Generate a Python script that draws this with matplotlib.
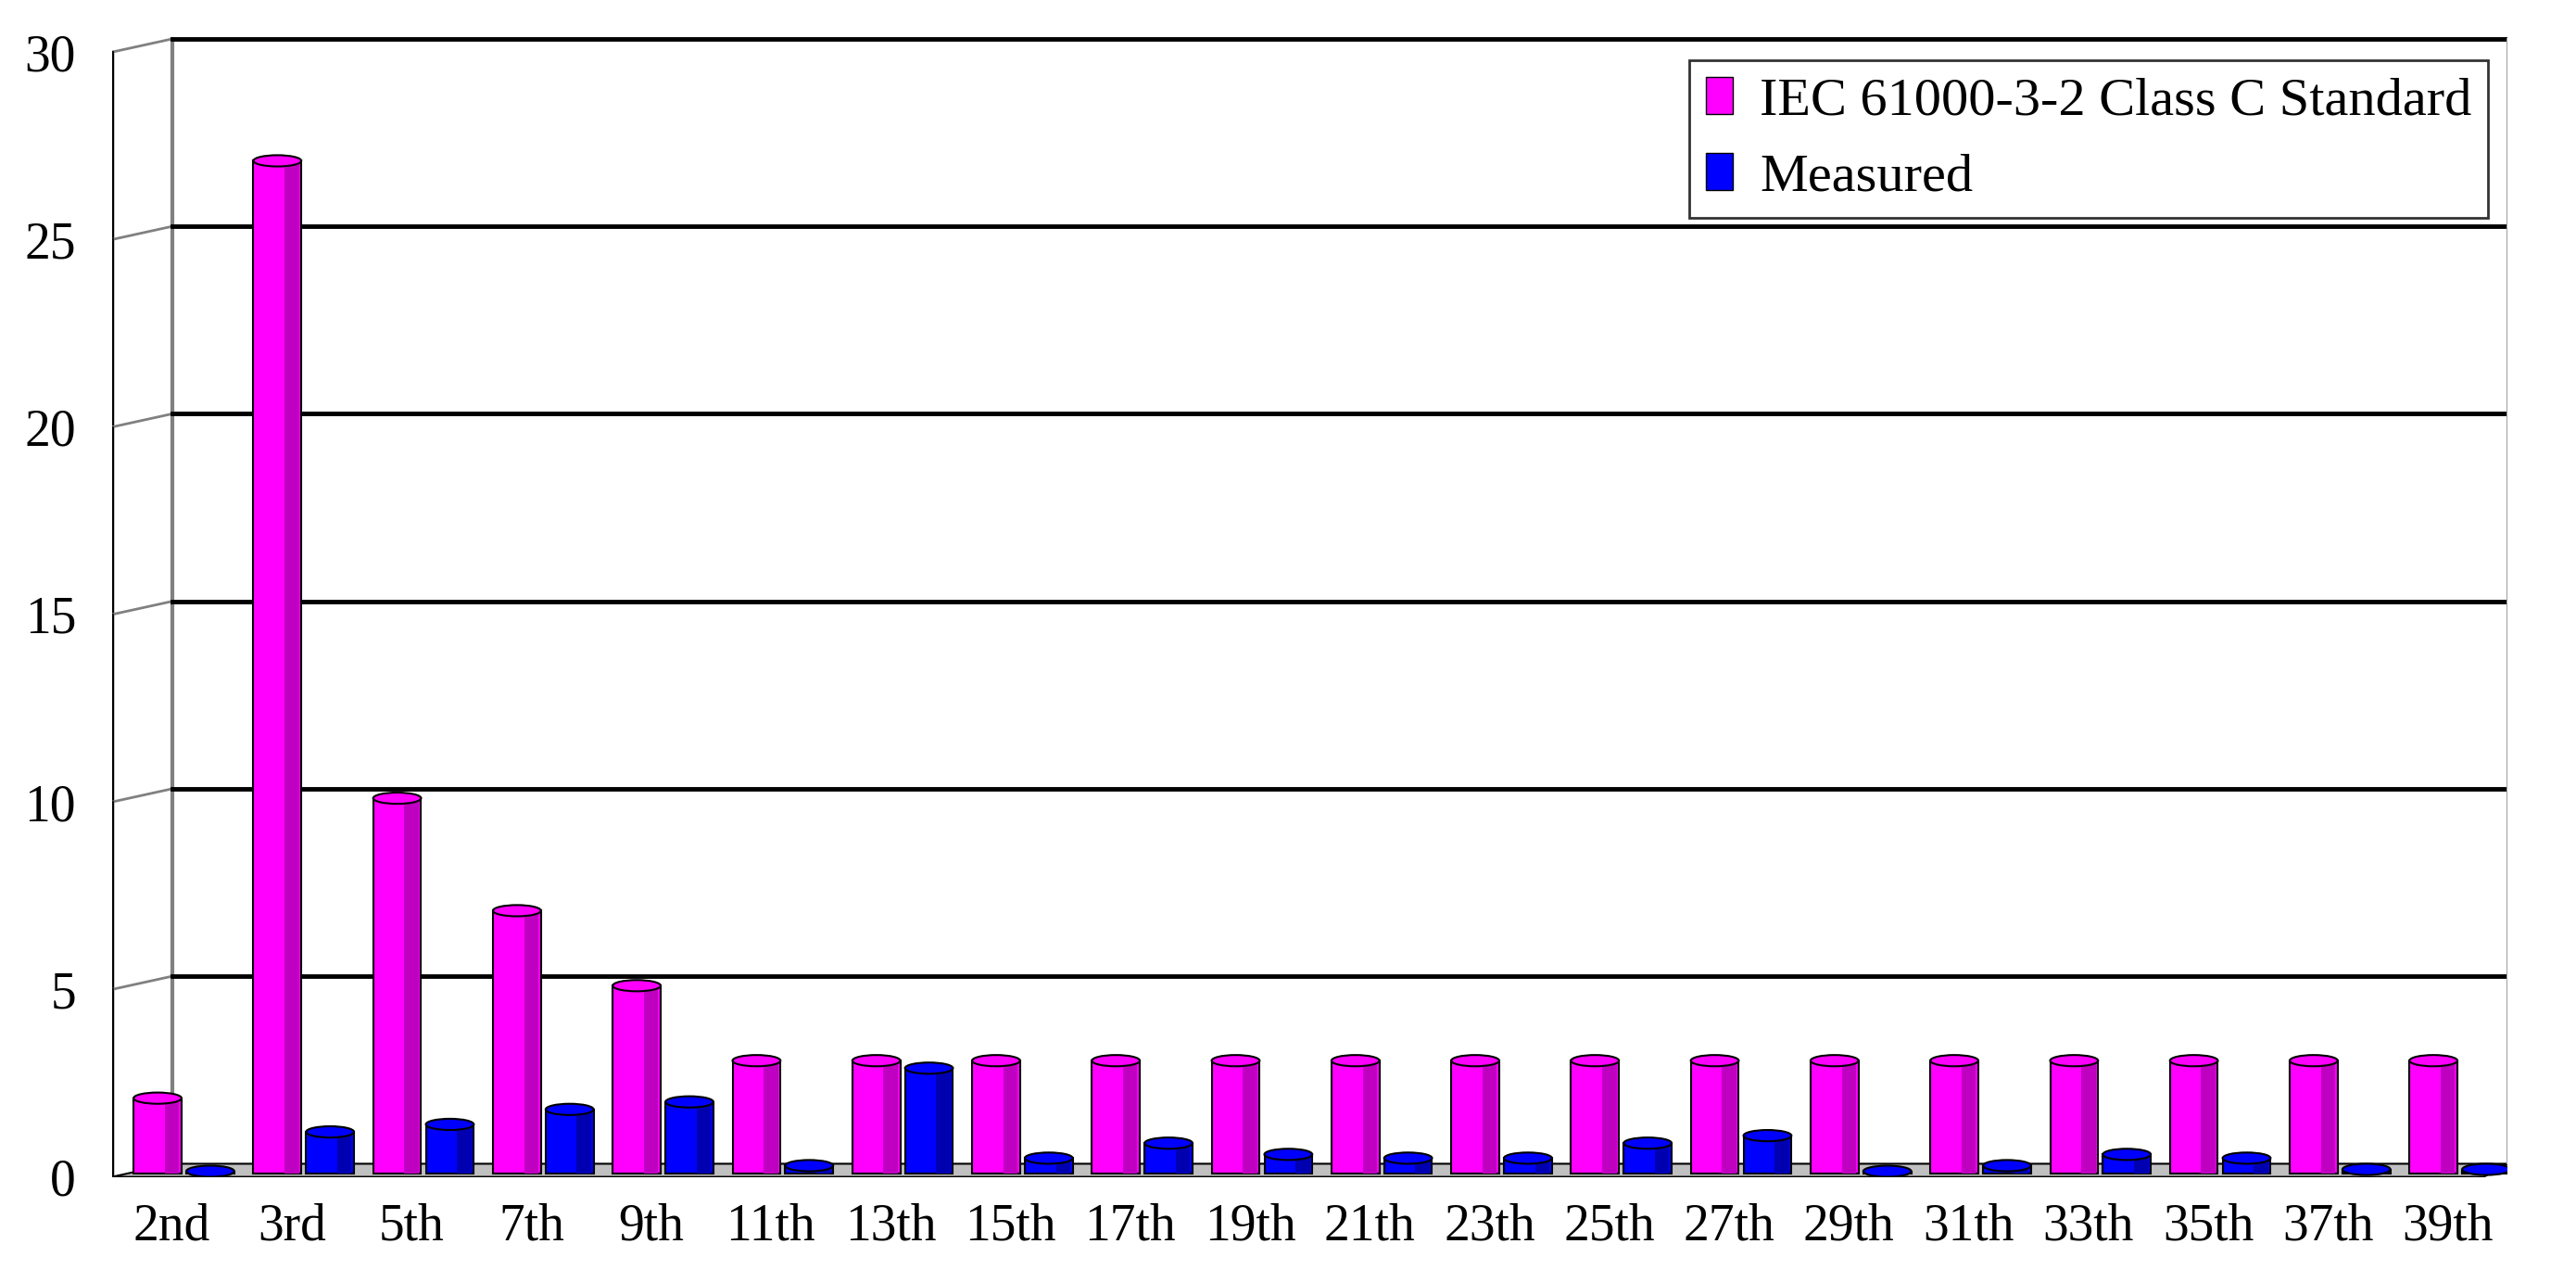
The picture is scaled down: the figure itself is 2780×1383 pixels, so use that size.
import matplotlib.pyplot as plt
from matplotlib.patches import Rectangle, Ellipse, Polygon
import numpy as np

plt.rcParams['font.family'] = ['Liberation Serif', 'DejaVu Serif']

harmonics = ['2nd', '3rd', '5th', '7th', '9th', '11th', '13th', '15th', '17th', '19th',
             '21th', '23th', '25th', '27th', '29th', '31th', '33th', '35th', '37th', '39th']
standard = [2, 27, 10, 7, 5, 3, 3, 3, 3, 3, 3, 3, 3, 3, 3, 3, 3, 3, 3, 3]
measured = [0.05, 1.1, 1.3, 1.7, 1.9, 0.2, 2.8, 0.4, 0.8, 0.5,
            0.4, 0.4, 0.8, 1.0, 0.05, 0.2, 0.5, 0.4, 0.1, 0.1]

fig = plt.figure(figsize=(27.8, 13.83), dpi=100)
ax = fig.add_axes([0.0435, 0.082, 0.93, 0.892])
ax.set_xlim(-0.5, 19.5)
ax.set_ylim(0, 30.5)
for s in ax.spines.values():
    s.set_visible(False)

dx, dy = 0.5, 0.35   # fake depth offset of the back wall
x0, x1 = -0.5, 19.5
# back wall and gridlines
ax.plot([x0 + dx, x0 + dx], [dy, 30 + dy], color='#808080', lw=3)
ax.plot([x0, x0], [0, 30], color='black', lw=2.5)
for g in range(5, 31, 5):
    ax.plot([x0, x0 + dx], [g, g + dy], color='#808080', lw=2)
    ax.plot([x0 + dx, x1], [g + dy, g + dy], color='black', lw=3.5)
ax.plot([x1, x1], [dy, 30 + dy], color='#a0a0a0', lw=1.5)
# floor
ax.add_patch(Polygon([[x0, 0], [x0 + dx, dy], [x1, dy], [x1 - dx * 0.4, 0]],
                     closed=True, facecolor='#c0c0c0', edgecolor='black', lw=1.5, zorder=1))
for g in range(0, 31, 5):
    ax.plot([x0 - 0.08, x0], [g, g], color='black', lw=2)


def cylinder(xc, h, w, color, dark):
    ax.add_patch(Rectangle((xc - w / 2, 0.1), w, h, facecolor=color, edgecolor='black', lw=1.5, zorder=3))
    ax.add_patch(Rectangle((xc + w * 0.15, 0.1), w * 0.3, h, facecolor=dark, edgecolor='none', zorder=3))
    ax.add_patch(Ellipse((xc, h + 0.1), w, 0.3, facecolor=color, edgecolor='black', lw=1.5, zorder=4))


x = np.arange(len(harmonics))
for i in x:
    cylinder(i - 0.12, standard[i], 0.4, '#ff00ff', '#c000c0')
    cylinder(i + 0.32, measured[i], 0.4, '#0000ff', '#0000b0')

ax.set_xticks(x)
ax.set_xticklabels(harmonics, fontsize=40)
ax.set_yticks(range(0, 31, 5))
ax.set_yticklabels([str(v) for v in range(0, 31, 5)], fontsize=40)
ax.tick_params(length=0, pad=20)
ax.tick_params(axis='y', pad=28)

leg_h = [Rectangle((0, 0), 1, 1, facecolor='#ff00ff', edgecolor='black'),
         Rectangle((0, 0), 1, 1, facecolor='#0000ff', edgecolor='black')]
leg = ax.legend(leg_h, ['IEC 61000-3-2 Class C Standard', 'Measured'], loc='upper right',
                bbox_to_anchor=(1.003, 1.0), fontsize=42, frameon=True, fancybox=False,
                handlelength=0.5, handleheight=0.7, handletextpad=0.5, borderpad=0.3,
                labelspacing=0.5)
leg.get_frame().set_edgecolor('black')
leg.get_frame().set_linewidth(2)
leg.set_zorder(10)

fig.savefig('out.png', dpi=100)
